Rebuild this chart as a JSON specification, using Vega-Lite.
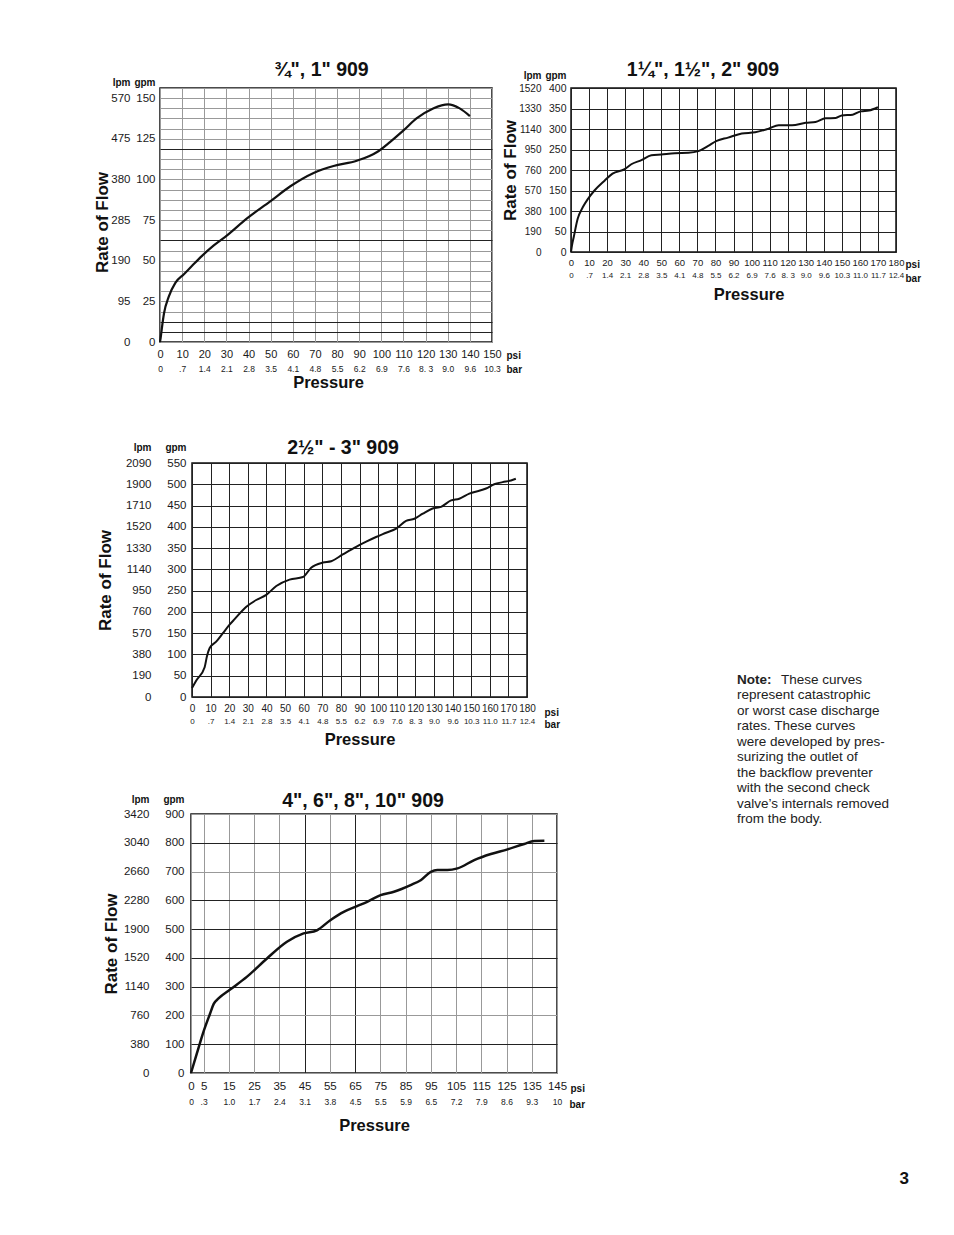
{
  "$schema": "https://vega.github.io/schema/vega-lite/v6.json",
  "autosize": {"type": "none"},
  "padding": {"left": 160, "top": 88, "right": 794, "bottom": 1147},
  "background": "white",
  "title": {"text": "3", "orient": "bottom", "anchor": "end", "frame": "bounds", "offset": 37, "dx": -18, "fontSize": 17, "fontWeight": "bold", "font": "Liberation Sans", "color": "#111"},
  "config": {
    "view": {"stroke": null},
    "axis": {"domain": false, "ticks": false, "grid": false, "labelFlush": false, "labelOverlap": false, "labelFont": "Liberation Sans", "labelColor": "#1a1a1a", "titleFont": "Liberation Sans", "titleColor": "#111", "gridWidth": 1}
  },
  "spacing": 44,
  "vconcat": [
    {
      "hconcat": [
        {
          "width": 332, "height": 254,
          "view": {"stroke": "#111", "strokeWidth": 1.5},
          "title": {"text": "¾\", 1\" 909", "frame": "group", "anchor": "middle", "dx": -4.5, "offset": -3, "fontSize": 19.5, "font": "Liberation Sans", "fontWeight": "bold", "color": "#111"},
          "data": {"values": [
            {"psi": 0, "gpm": 0}, {"psi": 0.3, "gpm": 2.5}, {"psi": 0.8, "gpm": 8}, {"psi": 1.8, "gpm": 17.5}, {"psi": 4, "gpm": 28}, {"psi": 7, "gpm": 36.5}, {"psi": 10.8, "gpm": 41.7}, {"psi": 14.6, "gpm": 47}, {"psi": 19, "gpm": 53}, {"psi": 24.3, "gpm": 59.4}, {"psi": 30.3, "gpm": 65.6}, {"psi": 39.3, "gpm": 76}, {"psi": 49.8, "gpm": 86.5}, {"psi": 58.9, "gpm": 95.8}, {"psi": 69.4, "gpm": 104}, {"psi": 78.4, "gpm": 108.3}, {"psi": 88.9, "gpm": 111.5}, {"psi": 97.9, "gpm": 116.7}, {"psi": 103.9, "gpm": 123}, {"psi": 109.9, "gpm": 130}, {"psi": 115.9, "gpm": 137.5}, {"psi": 123.4, "gpm": 143.7}, {"psi": 130.2, "gpm": 146.2}, {"psi": 135.4, "gpm": 143.7}, {"psi": 140, "gpm": 139}
          ]},
          "layer": [
            {
              "mark": {"type": "line", "color": "#111", "strokeWidth": 2.2, "interpolate": "monotone"},
              "encoding": {
                "x": {"field": "psi", "type": "quantitative", "scale": {"domain": [0, 150], "nice": false, "zero": false},
                  "axis": {"orient": "bottom", "values": [0,10,20,30,40,50,60,70,80,90,100,110,120,130,140,150], "labelPadding": 6, "labelFontSize": 11, "grid": true, "gridColor": "#999", "title": "psi", "titleAngle": 0, "titleX": 346, "titleY": 16, "titleAlign": "left", "titleBaseline": "alphabetic", "titleFontSize": 10, "titleFontWeight": "bold"}},
                "y": {"field": "gpm", "type": "quantitative", "scale": {"domain": [0, 156.25], "nice": false, "zero": false},
                  "axis": {"orient": "left", "values": [0,6.25,12.5,18.75,25,31.25,37.5,43.75,50,56.25,62.5,68.75,75,81.25,87.5,93.75,100,106.25,112.5,118.75,125,131.25,137.5,143.75,150,156.25], "labelExpr": "datum.value % 25 === 0 ? datum.label : ''", "labelPadding": 5, "labelFontSize": 11.5, "grid": true, "gridColor": {"condition": {"test": "indexof([6.25,12.5,62.5,118.75], datum.value) >= 0", "value": "#222"}, "value": "#999"}, "title": "gpm", "titleAngle": 0, "titleX": -5, "titleY": -3, "titleAlign": "right", "titleBaseline": "alphabetic", "titleFontSize": 10, "titleFontWeight": "bold"}}
              }
            },
            {
              "mark": {"type": "line", "opacity": 0},
              "encoding": {
                "x": {"field": "psi", "type": "quantitative", "scale": {"domain": [0, 150], "nice": false, "zero": false},
                  "axis": {"orient": "bottom", "offset": 16, "values": [0,10,20,30,40,50,60,70,80,90,100,110,120,130,140,150], "labelExpr": "['0','.7','1.4','2.1','2.8','3.5','4.1','4.8','5.5','6.2','6.9','7.6','8. 3','9.0','9.6','10.3','11.0','11.7','12.4'][round(datum.value/10)]", "labelPadding": 6, "labelFontSize": 8.5, "title": "bar", "titleAngle": 0, "titleX": 346, "titleY": 14, "titleAlign": "left", "titleBaseline": "alphabetic", "titleFontSize": 10, "titleFontWeight": "bold"}},
                "y": {"field": "gpm", "type": "quantitative", "scale": {"domain": [0, 156.25], "nice": false, "zero": false},
                  "axis": {"orient": "left", "offset": 25, "values": [0,25,50,75,100,125,150], "labelExpr": "format(datum.value*3.8,'d')", "labelPadding": 5, "labelFontSize": 11.5, "title": "lpm", "titleAngle": 0, "titleX": -5, "titleY": -3, "titleAlign": "right", "titleBaseline": "alphabetic", "titleFontSize": 10, "titleFontWeight": "bold"}}
              }
            },
            {
              "mark": {"type": "line", "opacity": 0},
              "encoding": {
                "x": {"field": "psi", "type": "quantitative", "scale": {"domain": [0, 150], "nice": false, "zero": false},
                  "axis": {"orient": "bottom", "offset": 32, "labels": false, "title": "Pressure", "titlePadding": 0, "titleFontSize": 16.5, "titleFontWeight": "bold", "titleX": 168}},
                "y": {"field": "gpm", "type": "quantitative", "scale": {"domain": [0, 156.25], "nice": false, "zero": false},
                  "axis": {"orient": "left", "offset": 45, "labels": false, "title": "Rate of Flow", "titlePadding": 4, "titleFontSize": 17, "titleFontWeight": "bold", "titleY": 134}}
              }
            }
          ],
          "resolve": {"scale": {"x": "independent", "y": "independent"}}
        },
        {
          "width": 325, "height": 164,
          "view": {"stroke": "#111", "strokeWidth": 1.5},
          "title": {"text": "1¼\", 1½\", 2\" 909", "frame": "group", "anchor": "middle", "dx": -30.5, "offset": -10, "fontSize": 19.5, "font": "Liberation Sans", "fontWeight": "bold", "color": "#111"},
          "data": {"values": [
            {"psi": 0, "gpm": 0}, {"psi": 0.5, "gpm": 15}, {"psi": 1.5, "gpm": 36}, {"psi": 3.7, "gpm": 81}, {"psi": 6.5, "gpm": 109}, {"psi": 9.3, "gpm": 129}, {"psi": 13, "gpm": 150}, {"psi": 18.6, "gpm": 174}, {"psi": 23, "gpm": 191}, {"psi": 29.7, "gpm": 202}, {"psi": 33.4, "gpm": 214}, {"psi": 39, "gpm": 224}, {"psi": 44.5, "gpm": 236}, {"psi": 50, "gpm": 238}, {"psi": 57.5, "gpm": 241}, {"psi": 65, "gpm": 242}, {"psi": 70.5, "gpm": 246}, {"psi": 76, "gpm": 259}, {"psi": 80.7, "gpm": 271}, {"psi": 87, "gpm": 279}, {"psi": 94.6, "gpm": 289}, {"psi": 102, "gpm": 292}, {"psi": 109.5, "gpm": 301}, {"psi": 115, "gpm": 309}, {"psi": 122.4, "gpm": 309}, {"psi": 130, "gpm": 315}, {"psi": 135.4, "gpm": 317}, {"psi": 141, "gpm": 326}, {"psi": 146.6, "gpm": 327}, {"psi": 150, "gpm": 333}, {"psi": 156, "gpm": 335}, {"psi": 160.5, "gpm": 343}, {"psi": 165, "gpm": 345}, {"psi": 170, "gpm": 353}
          ]},
          "layer": [
            {
              "mark": {"type": "line", "color": "#111", "strokeWidth": 2, "interpolate": "monotone"},
              "encoding": {
                "x": {"field": "psi", "type": "quantitative", "scale": {"domain": [0, 180], "nice": false, "zero": false},
                  "axis": {"orient": "bottom", "values": [0,10,20,30,40,50,60,70,80,90,100,110,120,130,140,150,160,170,180], "labelPadding": 5, "labelFontSize": 9.5, "grid": true, "gridColor": "#222", "title": "psi", "titleAngle": 0, "titleX": 334, "titleY": 15, "titleAlign": "left", "titleBaseline": "alphabetic", "titleFontSize": 10, "titleFontWeight": "bold"}},
                "y": {"field": "gpm", "type": "quantitative", "scale": {"domain": [0, 400], "nice": false, "zero": false},
                  "axis": {"orient": "left", "values": [0,50,100,150,200,250,300,350,400], "labelPadding": 5, "labelFontSize": 10.5, "grid": true, "gridColor": "#222", "title": "gpm", "titleAngle": 0, "titleX": -5, "titleY": -10, "titleAlign": "right", "titleBaseline": "alphabetic", "titleFontSize": 10, "titleFontWeight": "bold"}}
              }
            },
            {
              "mark": {"type": "line", "opacity": 0},
              "encoding": {
                "x": {"field": "psi", "type": "quantitative", "scale": {"domain": [0, 180], "nice": false, "zero": false},
                  "axis": {"orient": "bottom", "offset": 14, "values": [0,10,20,30,40,50,60,70,80,90,100,110,120,130,140,150,160,170,180], "labelExpr": "['0','.7','1.4','2.1','2.8','3.5','4.1','4.8','5.5','6.2','6.9','7.6','8. 3','9.0','9.6','10.3','11.0','11.7','12.4'][round(datum.value/10)]", "labelPadding": 5, "labelFontSize": 8, "title": "bar", "titleAngle": 0, "titleX": 334, "titleY": 15, "titleAlign": "left", "titleBaseline": "alphabetic", "titleFontSize": 10, "titleFontWeight": "bold"}},
                "y": {"field": "gpm", "type": "quantitative", "scale": {"domain": [0, 400], "nice": false, "zero": false},
                  "axis": {"orient": "left", "offset": 25, "values": [0,50,100,150,200,250,300,350,400], "labelExpr": "format(datum.value*3.8,'d')", "labelPadding": 5, "labelFontSize": 10, "title": "lpm", "titleAngle": 0, "titleX": -5, "titleY": -10, "titleAlign": "right", "titleBaseline": "alphabetic", "titleFontSize": 10, "titleFontWeight": "bold"}}
              }
            },
            {
              "mark": {"type": "line", "opacity": 0},
              "encoding": {
                "x": {"field": "psi", "type": "quantitative", "scale": {"domain": [0, 180], "nice": false, "zero": false},
                  "axis": {"orient": "bottom", "offset": 34, "labels": false, "title": "Pressure", "titlePadding": 0, "titleFontSize": 16.5, "titleFontWeight": "bold", "titleX": 177.5}},
                "y": {"field": "gpm", "type": "quantitative", "scale": {"domain": [0, 400], "nice": false, "zero": false},
                  "axis": {"orient": "left", "offset": 48, "labels": false, "title": "Rate of Flow", "titlePadding": 4, "titleFontSize": 17, "titleFontWeight": "bold"}}
              }
            }
          ],
          "resolve": {"scale": {"x": "independent", "y": "independent"}}
        }
      ],
      "bounds": "flush",
      "spacing": 79
    },
    {
      "spacing": -38,
      "align": "none",
      "vconcat": [
        {
          "bounds": "flush",
          "spacing": 20,
          "hconcat": [
            {"width": 12, "height": 1, "data": {"values": []}, "mark": "text"},
            {
              "width": 335, "height": 234,
              "view": {"stroke": "#111", "strokeWidth": 1.5},
              "title": {"text": "2½\" - 3\" 909", "frame": "group", "anchor": "middle", "dx": -16.5, "offset": -16, "fontSize": 19.5, "font": "Liberation Sans", "fontWeight": "bold", "color": "#111"},
              "data": {"values": [
                {"psi": 0, "gpm": 21}, {"psi": 2.3, "gpm": 39}, {"psi": 6.8, "gpm": 70}, {"psi": 8, "gpm": 95}, {"psi": 9.5, "gpm": 115}, {"psi": 13, "gpm": 130}, {"psi": 16.6, "gpm": 150}, {"psi": 20.2, "gpm": 170}, {"psi": 22.9, "gpm": 183}, {"psi": 29.2, "gpm": 212}, {"psi": 34.5, "gpm": 228}, {"psi": 39.9, "gpm": 240}, {"psi": 45.3, "gpm": 261}, {"psi": 52.4, "gpm": 276}, {"psi": 59.6, "gpm": 282}, {"psi": 64, "gpm": 304}, {"psi": 70.3, "gpm": 316}, {"psi": 74.8, "gpm": 319}, {"psi": 81, "gpm": 335}, {"psi": 88.2, "gpm": 353}, {"psi": 93.6, "gpm": 365}, {"psi": 98.9, "gpm": 376}, {"psi": 104.3, "gpm": 386}, {"psi": 109.7, "gpm": 396}, {"psi": 115, "gpm": 414}, {"psi": 119.5, "gpm": 419}, {"psi": 124, "gpm": 431}, {"psi": 129.3, "gpm": 443}, {"psi": 133.8, "gpm": 447}, {"psi": 139.2, "gpm": 462}, {"psi": 143.6, "gpm": 466}, {"psi": 149, "gpm": 478}, {"psi": 158, "gpm": 490}, {"psi": 162.4, "gpm": 500}, {"psi": 166.9, "gpm": 505}, {"psi": 171.4, "gpm": 509}, {"psi": 174, "gpm": 513}
              ]},
              "layer": [
                {
                  "mark": {"type": "line", "color": "#111", "strokeWidth": 2, "interpolate": "monotone"},
                  "encoding": {
                    "x": {"field": "psi", "type": "quantitative", "scale": {"domain": [0, 180], "nice": false, "zero": false},
                      "axis": {"orient": "bottom", "values": [0,10,20,30,40,50,60,70,80,90,100,110,120,130,140,150,160,170,180], "labelPadding": 6, "labelFontSize": 10, "grid": true, "gridColor": "#222", "title": "psi", "titleAngle": 0, "titleX": 352, "titleY": 18, "titleAlign": "left", "titleBaseline": "alphabetic", "titleFontSize": 10, "titleFontWeight": "bold"}},
                    "y": {"field": "gpm", "type": "quantitative", "scale": {"domain": [0, 550], "nice": false, "zero": false},
                      "axis": {"orient": "left", "values": [0,50,100,150,200,250,300,350,400,450,500,550], "labelPadding": 6, "labelFontSize": 11.5, "grid": true, "gridColor": "#222", "title": "gpm", "titleAngle": 0, "titleX": -6, "titleY": -13, "titleAlign": "right", "titleBaseline": "alphabetic", "titleFontSize": 10, "titleFontWeight": "bold"}}
                  }
                },
                {
                  "mark": {"type": "line", "opacity": 0},
                  "encoding": {
                    "x": {"field": "psi", "type": "quantitative", "scale": {"domain": [0, 180], "nice": false, "zero": false},
                      "axis": {"orient": "bottom", "offset": 14, "values": [0,10,20,30,40,50,60,70,80,90,100,110,120,130,140,150,160,170,180], "labelExpr": "['0','.7','1.4','2.1','2.8','3.5','4.1','4.8','5.5','6.2','6.9','7.6','8. 3','9.0','9.6','10.3','11.0','11.7','12.4'][round(datum.value/10)]", "labelPadding": 6, "labelFontSize": 8, "title": "bar", "titleAngle": 0, "titleX": 352, "titleY": 16, "titleAlign": "left", "titleBaseline": "alphabetic", "titleFontSize": 10, "titleFontWeight": "bold"}},
                    "y": {"field": "gpm", "type": "quantitative", "scale": {"domain": [0, 550], "nice": false, "zero": false},
                      "axis": {"orient": "left", "offset": 35, "values": [0,50,100,150,200,250,300,350,400,450,500,550], "labelExpr": "format(datum.value*3.8,'d')", "labelPadding": 6, "labelFontSize": 11.5, "title": "lpm", "titleAngle": 0, "titleX": -6, "titleY": -13, "titleAlign": "right", "titleBaseline": "alphabetic", "titleFontSize": 10, "titleFontWeight": "bold"}}
                  }
                },
                {
                  "mark": {"type": "line", "opacity": 0},
                  "encoding": {
                    "x": {"field": "psi", "type": "quantitative", "scale": {"domain": [0, 180], "nice": false, "zero": false},
                      "axis": {"orient": "bottom", "offset": 34, "labels": false, "title": "Pressure", "titlePadding": 0, "titleFontSize": 16.5, "titleFontWeight": "bold"}},
                    "y": {"field": "gpm", "type": "quantitative", "scale": {"domain": [0, 550], "nice": false, "zero": false},
                      "axis": {"orient": "left", "offset": 74, "labels": false, "title": "Rate of Flow", "titlePadding": 4, "titleFontSize": 17, "titleFontWeight": "bold"}}
                  }
                }
              ],
              "resolve": {"scale": {"x": "independent", "y": "independent"}}
            },
            {
              "bounds": "flush",
              "spacing": 0,
              "vconcat": [
                {"width": 1, "height": 209, "data": {"values": []}, "mark": "text"},
                {
                  "width": 380, "height": 155,
                  "data": {"values": [
                    {"line": 1, "lead": "Note:", "text": "These curves"},
                    {"line": 2, "lead": "", "text": "represent catastrophic"},
                    {"line": 3, "lead": "", "text": "or worst case discharge"},
                    {"line": 4, "lead": "", "text": "rates. These curves"},
                    {"line": 5, "lead": "", "text": "were developed by pres-"},
                    {"line": 6, "lead": "", "text": "surizing the outlet of"},
                    {"line": 7, "lead": "", "text": "the backflow preventer"},
                    {"line": 8, "lead": "", "text": "with the second check"},
                    {"line": 9, "lead": "", "text": "valve’s internals removed"},
                    {"line": 10, "lead": "", "text": "from the body."}
                  ]},
                  "encoding": {"y": {"field": "line", "type": "ordinal", "scale": {"type": "point", "padding": 0.5}, "axis": null}},
                  "layer": [
                    {"transform": [{"filter": "datum.line === 1"}], "mark": {"type": "text", "align": "left", "baseline": "middle", "fontSize": 13.5, "fontWeight": "bold", "font": "Liberation Sans", "color": "#222"}, "encoding": {"text": {"field": "lead"}}},
                    {"transform": [{"filter": "datum.line === 1"}], "mark": {"type": "text", "align": "left", "baseline": "middle", "dx": 44, "fontSize": 13.5, "font": "Liberation Sans", "color": "#222"}, "encoding": {"text": {"field": "text"}}},
                    {"transform": [{"filter": "datum.line > 1"}], "mark": {"type": "text", "align": "left", "baseline": "middle", "fontSize": 13.5, "font": "Liberation Sans", "color": "#222"}, "encoding": {"text": {"field": "text"}}}
                  ]
                }
              ]
            }
          ]
        },
        {
          "bounds": "flush",
          "spacing": 20,
          "hconcat": [
            {"width": 11, "height": 1, "data": {"values": []}, "mark": "text"},
            {
              "width": 366, "height": 259,
              "view": {"stroke": "#111", "strokeWidth": 1.5},
              "title": {"text": "4\", 6\", 8\", 10\" 909", "frame": "group", "anchor": "middle", "dx": -11, "offset": -17, "fontSize": 19.5, "font": "Liberation Sans", "fontWeight": "bold", "color": "#111"},
              "data": {"values": [
                {"psi": 0, "gpm": 0}, {"psi": 2.3, "gpm": 67}, {"psi": 4.9, "gpm": 142}, {"psi": 7.5, "gpm": 205}, {"psi": 9, "gpm": 240}, {"psi": 10.9, "gpm": 259}, {"psi": 15.5, "gpm": 290}, {"psi": 22.1, "gpm": 334}, {"psi": 30.1, "gpm": 398}, {"psi": 38, "gpm": 456}, {"psi": 44.6, "gpm": 485}, {"psi": 49.9, "gpm": 496}, {"psi": 55.2, "gpm": 531}, {"psi": 60.5, "gpm": 560}, {"psi": 65.8, "gpm": 580}, {"psi": 69.8, "gpm": 595}, {"psi": 75.1, "gpm": 618}, {"psi": 80.4, "gpm": 630}, {"psi": 87, "gpm": 653}, {"psi": 91, "gpm": 670}, {"psi": 95, "gpm": 699}, {"psi": 97.6, "gpm": 705}, {"psi": 101.6, "gpm": 705}, {"psi": 105.6, "gpm": 711}, {"psi": 112.2, "gpm": 740}, {"psi": 118.8, "gpm": 761}, {"psi": 125.4, "gpm": 777}, {"psi": 132, "gpm": 796}, {"psi": 136, "gpm": 806}, {"psi": 140, "gpm": 807}
              ]},
              "layer": [
                {
                  "mark": {"type": "line", "color": "#111", "strokeWidth": 2.5, "interpolate": "monotone"},
                  "encoding": {
                    "x": {"field": "psi", "type": "quantitative", "scale": {"domain": [0, 145], "nice": false, "zero": false},
                      "axis": {"orient": "bottom", "values": [0,5,15,25,35,45,55,65,75,85,95,105,115,125,135,145], "labelPadding": 7, "labelFontSize": 11.5, "grid": true, "gridColor": {"condition": {"test": "indexof([45,65], datum.value) >= 0", "value": "#222"}, "value": "#999"}, "title": "psi", "titleAngle": 0, "titleX": 379, "titleY": 18, "titleAlign": "left", "titleBaseline": "alphabetic", "titleFontSize": 10, "titleFontWeight": "bold"}},
                    "y": {"field": "gpm", "type": "quantitative", "scale": {"domain": [0, 900], "nice": false, "zero": false},
                      "axis": {"orient": "left", "values": [0,100,200,300,400,500,600,700,800,900], "labelPadding": 7, "labelFontSize": 11.5, "grid": true, "gridColor": {"condition": {"test": "indexof([100,300,400,500,600,800], datum.value) >= 0", "value": "#222"}, "value": "#999"}, "title": "gpm", "titleAngle": 0, "titleX": -7, "titleY": -12, "titleAlign": "right", "titleBaseline": "alphabetic", "titleFontSize": 10, "titleFontWeight": "bold"}}
                  }
                },
                {
                  "mark": {"type": "line", "opacity": 0},
                  "encoding": {
                    "x": {"field": "psi", "type": "quantitative", "scale": {"domain": [0, 145], "nice": false, "zero": false},
                      "axis": {"orient": "bottom", "offset": 17, "values": [0,5,15,25,35,45,55,65,75,85,95,105,115,125,135,145], "labelExpr": "['0','.3','1.0','1.7','2.4','3.1','3.8','4.5','5.5','5.9','6.5','7.2','7.9','8.6','9.3','10'][floor((datum.value+5)/10)]", "labelPadding": 7, "labelFontSize": 8.5, "title": "bar", "titleAngle": 0, "titleX": 378, "titleY": 17, "titleAlign": "left", "titleBaseline": "alphabetic", "titleFontSize": 10, "titleFontWeight": "bold"}},
                    "y": {"field": "gpm", "type": "quantitative", "scale": {"domain": [0, 900], "nice": false, "zero": false},
                      "axis": {"orient": "left", "offset": 35, "values": [0,100,200,300,400,500,600,700,800,900], "labelExpr": "format(datum.value*3.8,'d')", "labelPadding": 7, "labelFontSize": 11.5, "title": "lpm", "titleAngle": 0, "titleX": -7, "titleY": -12, "titleAlign": "right", "titleBaseline": "alphabetic", "titleFontSize": 10, "titleFontWeight": "bold"}}
                  }
                },
                {
                  "mark": {"type": "line", "opacity": 0},
                  "encoding": {
                    "x": {"field": "psi", "type": "quantitative", "scale": {"domain": [0, 145], "nice": false, "zero": false},
                      "axis": {"orient": "bottom", "offset": 44, "labels": false, "title": "Pressure", "titlePadding": 0, "titleFontSize": 16.5, "titleFontWeight": "bold"}},
                    "y": {"field": "gpm", "type": "quantitative", "scale": {"domain": [0, 900], "nice": false, "zero": false},
                      "axis": {"orient": "left", "offset": 67, "labels": false, "title": "Rate of Flow", "titlePadding": 4, "titleFontSize": 17, "titleFontWeight": "bold"}}
                  }
                }
              ],
              "resolve": {"scale": {"x": "independent", "y": "independent"}}
            }
          ]
        }
      ]
    }
  ]
}
